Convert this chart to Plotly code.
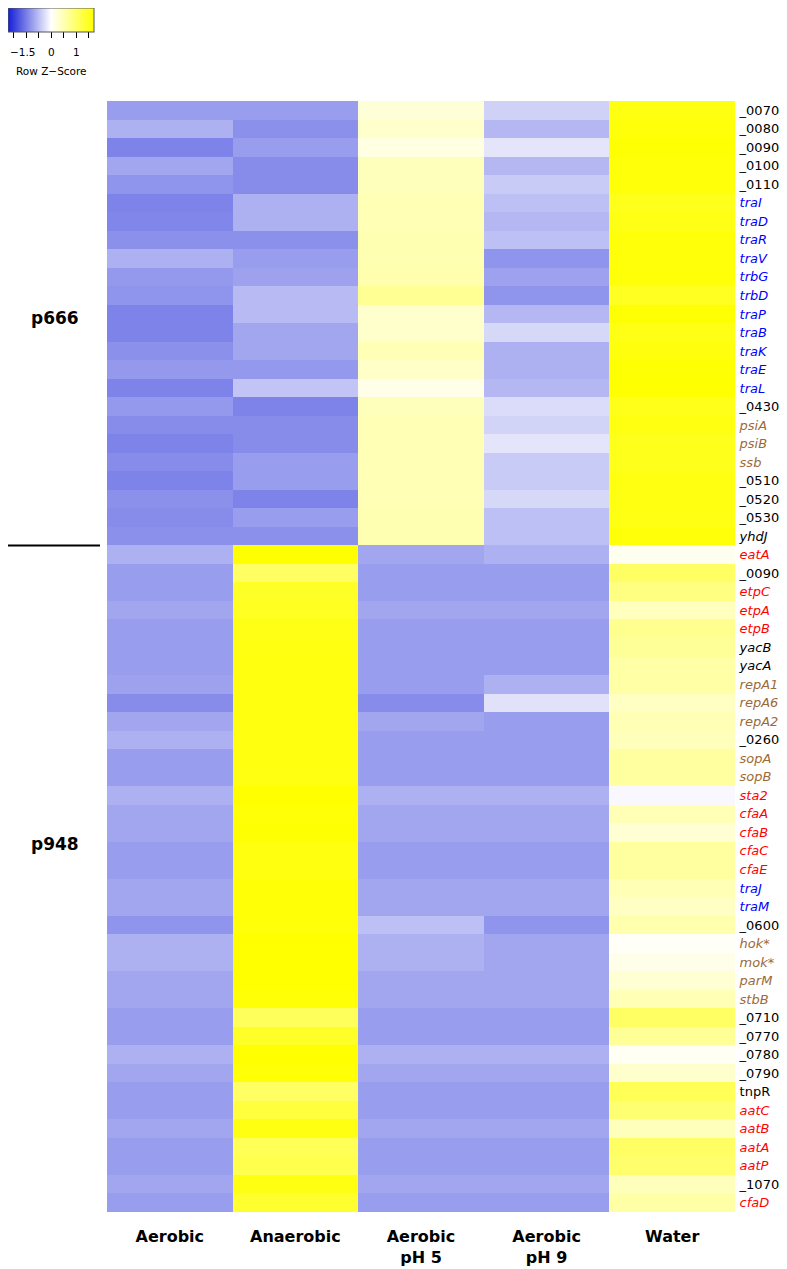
import plotly.graph_objects as go

# conditions (columns) and genes (rows)
conditions = ["Aerobic", "Anaerobic", "Aerobic<br>pH 5", "Aerobic<br>pH 9", "Water"]

p666_genes = ["_0070", "_0080", "_0090", "_0100", "_0110", "traI", "traD", "traR",
              "traV", "trbG", "trbD", "traP", "traB", "traK", "traE", "traL",
              "_0430", "psiA", "psiB", "ssb", "_0510", "_0520", "_0530", "yhdJ"]
p666_kind = ["k", "k", "k", "k", "k", "b", "b", "b", "b", "b", "b", "b", "b", "b", "b", "b",
             "k", "n", "n", "n", "k", "k", "k", "k"]

p948_genes = ["eatA", "_0090", "etpC", "etpA", "etpB", "yacB", "yacA", "repA1", "repA6",
              "repA2", "_0260", "sopA", "sopB", "sta2", "cfaA", "cfaB", "cfaC", "cfaE",
              "traJ", "traM", "_0600", "hok*", "mok*", "parM", "stbB", "_0710", "_0770",
              "_0780", "_0790", "tnpR", "aatC", "aatB", "aatA", "aatP", "_1070", "cfaD"]
p948_kind = ["r", "k", "r", "r", "r", "k", "k", "n", "n", "n", "k", "n", "n", "r", "r", "r",
             "r", "r", "b", "b", "k", "n", "n", "n", "n", "k", "k", "k", "k", "k", "r", "r",
             "r", "r", "k", "r"]

# row z-scores: Aerobic, Anaerobic, Aerobic pH 5, Aerobic pH 9, Water
p666_z = [
    [-0.75, -0.75, 0.27, -0.35, 1.60],
    [-0.60, -0.85, 0.35, -0.55, 1.65],
    [-0.95, -0.75, 0.20, -0.20, 1.70],
    [-0.68, -0.88, 0.45, -0.55, 1.66],
    [-0.82, -0.88, 0.45, -0.40, 1.65],
    [-0.95, -0.60, 0.50, -0.48, 1.53],
    [-0.92, -0.60, 0.50, -0.55, 1.57],
    [-0.85, -0.85, 0.52, -0.48, 1.66],
    [-0.60, -0.75, 0.52, -0.82, 1.65],
    [-0.78, -0.72, 0.55, -0.72, 1.67],
    [-0.82, -0.52, 0.72, -0.82, 1.50],
    [-0.95, -0.52, 0.33, -0.55, 1.69],
    [-0.95, -0.68, 0.35, -0.30, 1.58],
    [-0.85, -0.68, 0.50, -0.60, 1.63],
    [-0.78, -0.78, 0.38, -0.60, 1.70],
    [-0.95, -0.45, 0.15, -0.55, 1.75],
    [-0.78, -0.95, 0.45, -0.27, 1.55],
    [-0.88, -0.88, 0.50, -0.33, 1.60],
    [-0.95, -0.88, 0.50, -0.20, 1.53],
    [-0.88, -0.75, 0.50, -0.40, 1.53],
    [-0.95, -0.75, 0.50, -0.40, 1.60],
    [-0.85, -0.95, 0.50, -0.30, 1.60],
    [-0.88, -0.75, 0.52, -0.48, 1.59],
    [-0.85, -0.85, 0.52, -0.48, 1.66],
]

p948_z = [
    [-0.60, 1.72, -0.68, -0.60, 0.10],
    [-0.75, 1.05, -0.75, -0.75, 1.05],
    [-0.75, 1.45, -0.75, -0.75, 0.85],
    [-0.68, 1.50, -0.68, -0.68, 0.44],
    [-0.75, 1.58, -0.75, -0.75, 0.75],
    [-0.75, 1.60, -0.75, -0.75, 0.70],
    [-0.75, 1.62, -0.75, -0.75, 0.60],
    [-0.72, 1.62, -0.75, -0.60, 0.60],
    [-0.88, 1.62, -0.88, -0.22, 0.40],
    [-0.68, 1.62, -0.68, -0.75, 0.50],
    [-0.60, 1.62, -0.75, -0.75, 0.45],
    [-0.75, 1.62, -0.75, -0.75, 0.65],
    [-0.75, 1.60, -0.75, -0.75, 0.65],
    [-0.60, 1.72, -0.60, -0.60, -0.05],
    [-0.68, 1.68, -0.68, -0.68, 0.50],
    [-0.68, 1.70, -0.68, -0.68, 0.30],
    [-0.75, 1.62, -0.75, -0.75, 0.65],
    [-0.75, 1.62, -0.75, -0.75, 0.65],
    [-0.68, 1.68, -0.68, -0.68, 0.50],
    [-0.68, 1.68, -0.68, -0.68, 0.40],
    [-0.82, 1.65, -0.48, -0.82, 0.55],
    [-0.60, 1.72, -0.60, -0.68, 0.05],
    [-0.60, 1.72, -0.60, -0.68, 0.15],
    [-0.68, 1.72, -0.68, -0.68, 0.30],
    [-0.68, 1.68, -0.68, -0.68, 0.50],
    [-0.75, 1.10, -0.75, -0.75, 1.05],
    [-0.75, 1.45, -0.75, -0.75, 0.70],
    [-0.60, 1.72, -0.60, -0.60, 0.08],
    [-0.68, 1.68, -0.68, -0.68, 0.33],
    [-0.75, 1.05, -0.75, -0.75, 1.15],
    [-0.75, 1.30, -0.75, -0.75, 0.95],
    [-0.68, 1.60, -0.68, -0.68, 0.45],
    [-0.75, 1.15, -0.75, -0.75, 1.05],
    [-0.75, 1.20, -0.75, -0.75, 1.00],
    [-0.68, 1.60, -0.68, -0.68, 0.45],
    [-0.75, 1.40, -0.75, -0.75, 0.60],
]

key_ticks = [-1.5, -1, -0.5, 0, 0.5, 1, 1.5]
key_labels = {-1.5: "\u22121.5", 0: "0", 1: "1"}

colour_of = {"k": "#000000", "b": "#0000FF", "r": "#FF0000", "n": "#9C6A36"}

genes = p666_genes + p948_genes
kinds = p666_kind + p948_kind
z = p666_z + p948_z
rows = list(range(len(genes)))

# the page puts the figure 8px in from the window corner, so size it to fit
OFF = 8
W, H = 787 - OFF, 1269 - OFF
left, right, top, bottom = 107 - OFF, 735 - OFF, 101 - OFF, 1212 - OFF
FONT = "DejaVu Sans, Verdana, sans-serif"
ZMAX = 1.72
KEY_LEN = 86


def label(g, k):
    txt = g if (g.startswith("_") or g == "tnpR") else "<i>" + g + "</i>"
    return '<span style="color:%s">%s</span>' % (colour_of[k], txt)


fig = go.Figure()

fig.add_trace(go.Heatmap(
    z=z, x=list(range(len(conditions))), y=rows,
    colorscale=[[0, "#141ED7"], [0.5, "#FFFFFF"], [1, "#FFFF00"]],
    zmin=-ZMAX, zmax=ZMAX,
    colorbar=dict(orientation="h", xref="container", yref="container",
                  x=0, xanchor="left", y=1, yanchor="top",
                  len=KEY_LEN, lenmode="pixels", thickness=24, xpad=0, ypad=0,
                  outlinewidth=1, outlinecolor="#555555",
                  tickvals=key_ticks, ticktext=["" for t in key_ticks],
                  ticks="outside", ticklen=6, tickcolor="#000000"),
    hoverinfo="skip",
))

fig.update_xaxes(domain=[left / W, right / W], range=[-0.5, 4.5],
                 tickvals=list(range(len(conditions))),
                 ticktext=["<b>" + c + "</b>" for c in conditions],
                 ticks="outside", ticklen=10, tickcolor="rgba(0,0,0,0)",
                 tickfont=dict(size=16, color="#000000"),
                 showgrid=False, zeroline=False, showline=False)
fig.update_yaxes(domain=[1 - bottom / H, 1 - top / H], range=[len(genes) - 0.5, -0.5],
                 side="right", tickvals=rows,
                 ticktext=[label(g, k) for g, k in zip(genes, kinds)],
                 ticks="outside", ticklen=1, tickcolor="rgba(0,0,0,0)",
                 tickfont=dict(size=13, color="#000000"),
                 showgrid=False, zeroline=False, showline=False)

# separator between the plasmids and their labels
fig.add_shape(type="line", xref="paper", yref="y", x0=0, x1=(100 - OFF) / W,
              y0=len(p666_genes) - 0.5, y1=len(p666_genes) - 0.5,
              line=dict(color="#000000", width=2))
fig.add_annotation(text="<b>p666</b>", xref="paper", yref="y", x=(55 - OFF) / W, y=11.2,
                   xanchor="center", yanchor="middle", showarrow=False,
                   font=dict(size=17, color="#000000"))
fig.add_annotation(text="<b>p948</b>", xref="paper", yref="y", x=(55 - OFF) / W, y=39.6,
                   xanchor="center", yanchor="middle", showarrow=False,
                   font=dict(size=17, color="#000000"))

# colour key labels, placed on the key's own value scale
for t, s in key_labels.items():
    xk = (KEY_LEN / 2 + KEY_LEN / (2 * ZMAX) * t) / W
    edge = xk * W < 12
    fig.add_annotation(text=s, xref="paper", yref="paper", x=0 if edge else xk,
                       y=1 - 44 / H, xanchor="left" if edge else "center",
                       yanchor="middle", showarrow=False,
                       font=dict(size=10.5, color="#000000"))
fig.add_annotation(text="Row Z\u2212Score", xref="paper", yref="paper",
                   x=(KEY_LEN / 2) / W, y=1 - 63 / H, xanchor="center", yanchor="middle",
                   showarrow=False, font=dict(size=10.5, color="#000000"))

fig.update_layout(width=W, height=H,
                  margin=dict(l=0, r=0, t=0, b=0, autoexpand=False),
                  paper_bgcolor="white", plot_bgcolor="white",
                  font=dict(family=FONT))

fig.write_html("out.html")
